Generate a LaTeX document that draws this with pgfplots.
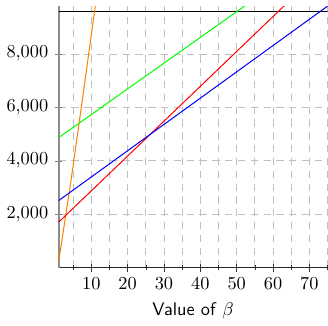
\documentclass[border=0pt]{standalone}
\usepackage{pgfplots}
\pgfplotsset{compat=1.18}
\begin{document}
\begin{tikzpicture}
\begin{axis}[
  scale only axis,
  width=147pt, height=143pt,
  xmin=1, xmax=75, ymin=0, ymax=9790,
  axis x line=bottom, axis y line=left,
  axis line style={-},
  y axis line style={gray!90, line width=1.1pt},
  x axis line style={black!85, line width=0.5pt},
  xtick={10,20,...,70},
  minor xtick={5,15,...,75},
  ytick={2000,4000,6000,8000},
  grid=both,
  major grid style={gray!50, dash pattern=on 4pt off 3pt},
  minor grid style={gray!50, dash pattern=on 4pt off 3pt},
  y tick style={gray},
  x tick style={black!80},
  xlabel={\textsf{Value of} $\beta$},
  clip=true,
]
\addplot[black, line width=0.6pt] coordinates {(1,9590) (75,9590)};
\addplot[orange, line width=0.55pt] coordinates {(1,200) (4.36,3200) (7.76,6486) (11.1,9790) (12,10700)};
\addplot[green, line width=0.55pt] coordinates {(1,4864) (60,10540)};
\addplot[red, line width=0.55pt] coordinates {(1,1700) (70,10700)};
\addplot[blue, line width=0.55pt] coordinates {(1,2508) (76,9885)};
\end{axis}
\path (-32pt,146.3pt);
\end{tikzpicture}
\end{document}
